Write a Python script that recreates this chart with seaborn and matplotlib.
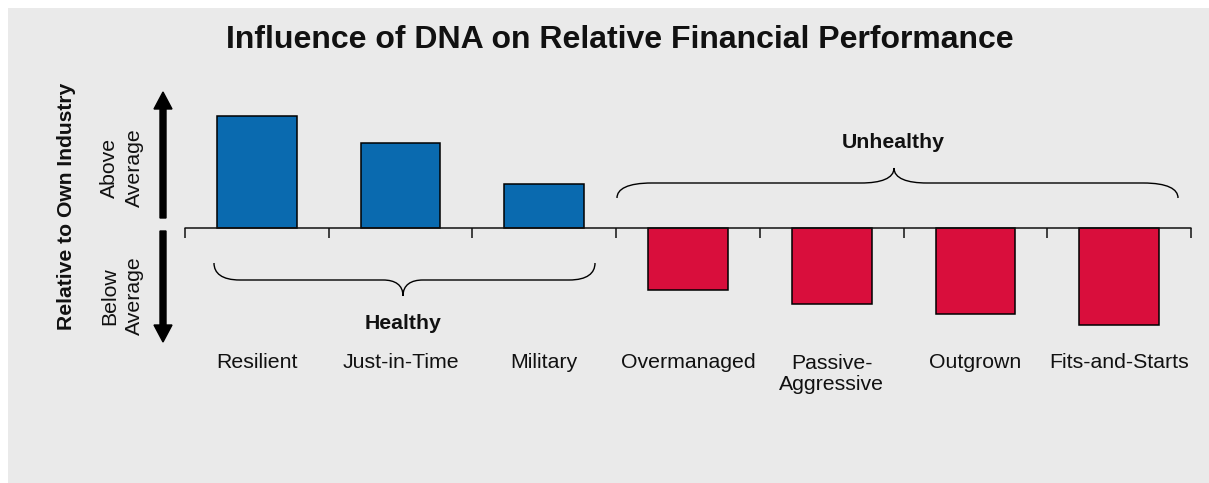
import numpy as np
import pandas as pd
import matplotlib
matplotlib.use("Agg")
import matplotlib.pyplot as plt
import seaborn as sns
from matplotlib.path import Path
from matplotlib.patches import PathPatch, Rectangle, FancyArrow

# Relative financial performance by organisational DNA type
categories = ["Resilient", "Just-in-Time", "Military", "Overmanaged",
              "Passive-\nAggressive", "Outgrown", "Fits-and-Starts"]
performance = [1.12, 0.85, 0.44, -0.62, -0.76, -0.86, -0.97]
dna_group = ["Healthy", "Healthy", "Healthy",
             "Unhealthy", "Unhealthy", "Unhealthy", "Unhealthy"]
group_colors = {"Healthy": "#0A6AAF", "Unhealthy": "#D90E3C"}

title = "Influence of DNA on Relative Financial Performance"
y_title = "Relative to Own Industry"
above_label = "Above\nAverage"
below_label = "Below\nAverage"

sns.set_theme(style="white")
plt.rcParams["font.family"] = ["Liberation Sans", "DejaVu Sans"]

W, H = 1209, 483
fig = plt.figure(figsize=(W / 100, H / 100), dpi=100)
fig.patch.set_facecolor("white")

# Full-figure canvas in pixel units for panel, arrows, braces and labels
bg = fig.add_axes([0, 0, 1, 1], zorder=0)
bg.set_xlim(0, W)
bg.set_ylim(H, 0)
bg.axis("off")
bg.add_patch(Rectangle((8, 8), W - 8, H - 8, facecolor="#EAEAEA", edgecolor="none"))

# Bar axes: zero line sits at pixel row 228, 100 px per unit
ax = fig.add_axes([185 / W, 1 - 342 / H, 1006 / W, 250 / H], zorder=1)
ax.patch.set_alpha(0)

df = pd.DataFrame({"category": categories, "value": performance, "group": dna_group})
sns.barplot(data=df, x="category", y="value", hue="group", order=categories,
            palette=group_colors, dodge=False, width=80 / 144, saturation=1,
            edgecolor="black", linewidth=1.1, legend=False, ax=ax)
ax.set_xlim(-0.5, len(categories) - 0.5)
ax.set_ylim(-1.14, 1.36)
ax.axis("off")

# Category axis line with boundary ticks
ax.plot([-0.5, len(categories) - 0.5], [0, 0], color="#111111", lw=1.1,
        clip_on=False, zorder=5)
ax.vlines(np.arange(len(categories) + 1) - 0.5, -0.1, 0, color="#111111",
          lw=1.1, clip_on=False, zorder=5)
for i, c in enumerate(categories):
    extra_lines = c.count("\n")
    ax.text(i, -1.40 - 0.225 * extra_lines, c, ha="center", va="baseline",
            fontsize=15.3, color="#111111", linespacing=1.15, clip_on=False)

# Title and side labels
bg.text(620, 48, title, ha="center", va="baseline", fontsize=23,
        fontweight="bold", color="#111111")
bg.text(67, 206, y_title, ha="center", va="center", rotation=90,
        fontsize=15.2, fontweight="bold", color="#111111")
bg.text(122, 168, above_label, ha="center", va="center", rotation=90,
        fontsize=15.3, color="#111111", linespacing=1.4)
bg.text(122, 296, below_label, ha="center", va="center", rotation=90,
        fontsize=15.3, color="#111111", linespacing=1.4)

# Direction arrows
bg.add_patch(FancyArrow(163, 218, 0, -(218 - 92), width=6, head_width=18,
                        head_length=17, length_includes_head=True,
                        color="black"))
bg.add_patch(FancyArrow(163, 231, 0, 342 - 231, width=6, head_width=18,
                        head_length=17, length_includes_head=True,
                        color="black"))


def brace(axis, x0, x1, xm, y_end, y_line, y_tip, w_end, w_mid):
    verts = [(x0, y_end),
             (x0, y_end + 0.6 * (y_line - y_end)), (x0 + 0.3 * w_end, y_line), (x0 + w_end, y_line),
             (xm - w_mid, y_line),
             (xm - 0.4 * w_mid, y_line), (xm, y_line + 0.3 * (y_tip - y_line)), (xm, y_tip),
             (xm, y_line + 0.3 * (y_tip - y_line)), (xm + 0.4 * w_mid, y_line), (xm + w_mid, y_line),
             (x1 - w_end, y_line),
             (x1 - 0.3 * w_end, y_line), (x1, y_end + 0.6 * (y_line - y_end)), (x1, y_end)]
    codes = [Path.MOVETO,
             Path.CURVE4, Path.CURVE4, Path.CURVE4,
             Path.LINETO,
             Path.CURVE4, Path.CURVE4, Path.CURVE4,
             Path.CURVE4, Path.CURVE4, Path.CURVE4,
             Path.LINETO,
             Path.CURVE4, Path.CURVE4, Path.CURVE4]
    axis.add_patch(PathPatch(Path(verts, codes), facecolor="none",
                             edgecolor="black", lw=1.0))


brace(bg, 214, 595, 403, 263, 280, 296, 26, 20)
brace(bg, 617, 1178, 894, 198, 183, 168, 35, 33)

bg.text(403, 329, "Healthy", ha="center", va="baseline", fontsize=15.3,
        fontweight="bold", color="#111111")
bg.text(893, 148, "Unhealthy", ha="center", va="baseline", fontsize=15.3,
        fontweight="bold", color="#111111")

fig.savefig("out.png", dpi=100, facecolor=fig.get_facecolor())
